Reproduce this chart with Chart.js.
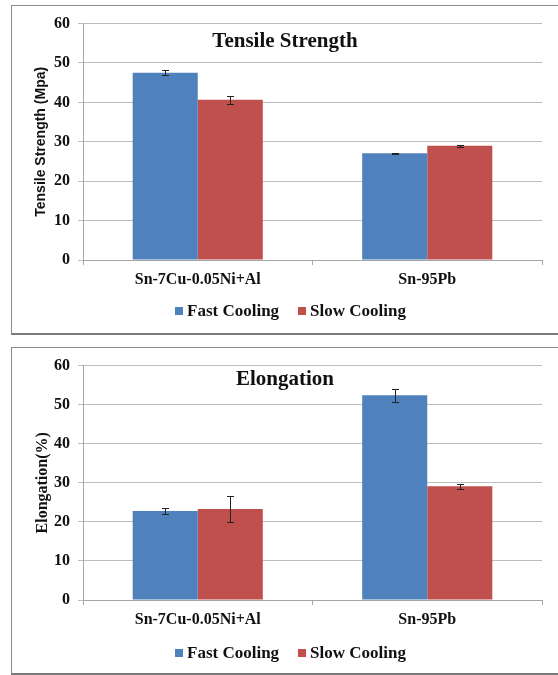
<!DOCTYPE html>
<html>
<head>
<meta charset="utf-8">
<script src="https://cdn.jsdelivr.net/npm/chart.js@4.4.1/dist/chart.umd.min.js"></script>
<style>
  html, body { margin: 0; padding: 0; background: #fff; width: 558px; height: 675px; overflow: hidden; }
  .panel { position: absolute; left: 11px; width: 547px; border: 1px solid #8c8c8c; border-bottom: 2px solid #7a7a7a; background: #fff; }
  #panel1 { top: 5px; height: 327px; }
  #panel2 { top: 347px; height: 325px; }
  .panel canvas { position: absolute; left: 0; top: 0; }
  .legend { position: absolute; left: 163px; height: 20px; display: flex; align-items: center;
            font: bold 17px "Liberation Serif", "Times New Roman", serif; color: #111; white-space: nowrap; }
  .legend .item { display: flex; align-items: center; }
  .legend .item + .item { margin-left: 19px; }
  .legend .swatch { width: 8px; height: 8px; margin-right: 4px; }
</style>
</head>
<body>
<div class="panel" id="panel1">
  <canvas id="tensile" width="546" height="327"></canvas>
  <div class="legend" id="legend1" style="top:295px"></div>
</div>
<div class="panel" id="panel2">
  <canvas id="elong" width="546" height="325"></canvas>
  <div class="legend" id="legend2" style="top:295px"></div>
</div>
<script>
// Alloys on the x axis
const categories = ['Sn-7Cu-0.05Ni+Al', 'Sn-95Pb'];
const seriesNames = ['Fast Cooling', 'Slow Cooling'];

// Tensile strength (MPa) with standard deviations
const tensileFast = [47.5, 27.1];
const tensileFastErr = [0.6, 0.1];
const tensileSlow = [40.7, 29.0];
const tensileSlowErr = [1.0, 0.2];

// Elongation (%) with standard deviations
const elongFast = [22.8, 52.4];
const elongFastErr = [0.8, 1.7];
const elongSlow = [23.3, 29.1];
const elongSlowErr = [3.3, 0.7];

// Shared y-axis ticks
const yTicks = [0, 10, 20, 30, 40, 50, 60];

const BLUE = '#4F81BD';
const RED = '#C0504D';
const SERIF = '"Liberation Serif", "Times New Roman", serif';
const SANS = '"Liberation Sans", Arial, sans-serif';

// Error bars drawn from each dataset's `errors` array
const errorBars = {
  id: 'errorBars',
  afterDatasetsDraw(chart) {
    const ctx = chart.ctx;
    const y = chart.scales.y;
    ctx.save();
    ctx.strokeStyle = '#222';
    ctx.lineWidth = 1;
    chart.data.datasets.forEach((ds, i) => {
      const meta = chart.getDatasetMeta(i);
      meta.data.forEach((bar, j) => {
        const v = ds.data[j], e = ds.errors[j];
        const x = Math.round(bar.x) + 0.5;
        const t = Math.round(y.getPixelForValue(v + e)) + 0.5;
        const b = Math.round(y.getPixelForValue(v - e)) + 0.5;
        ctx.beginPath();
        ctx.moveTo(x, t); ctx.lineTo(x, b);
        ctx.moveTo(x - 3.5, t); ctx.lineTo(x + 3.5, t);
        ctx.moveTo(x - 3.5, b); ctx.lineTo(x + 3.5, b);
        ctx.stroke();
      });
    });
    ctx.restore();
  }
};

// Title placed inside the plot area
const innerTitle = {
  id: 'innerTitle',
  afterDatasetsDraw(chart, args, opts) {
    const a = chart.chartArea;
    const ctx = chart.ctx;
    ctx.save();
    ctx.font = 'bold 21px ' + SERIF;
    ctx.fillStyle = '#111';
    ctx.textAlign = 'center';
    ctx.textBaseline = 'middle';
    ctx.fillText(opts.text, a.left + (a.right - a.left) * opts.xFrac, a.top + opts.dy);
    ctx.restore();
  }
};

function makeChart(id, fast, fastErr, slow, slowErr, title, titleDy, yTitle, yTitleFont) {
  return new Chart(document.getElementById(id), {
    type: 'bar',
    data: {
      labels: categories,
      datasets: [
        { label: seriesNames[0], data: fast, errors: fastErr, backgroundColor: BLUE, borderWidth: 0 },
        { label: seriesNames[1], data: slow, errors: slowErr, backgroundColor: RED, borderWidth: 0 }
      ]
    },
    options: {
      responsive: false,
      animation: false,
      devicePixelRatio: 1,
      layout: { padding: { left: 12, right: 16, top: 15, bottom: 33 } },
      datasets: { bar: { categoryPercentage: 0.567, barPercentage: 1.0 } },
      plugins: {
        legend: { display: false },
        tooltip: { enabled: false },
        innerTitle: { text: title, xFrac: 0.44, dy: titleDy }
      },
      scales: {
        x: {
          afterFit: s => { s.height = 40; },
          grid: { offset: true, drawOnChartArea: false, drawTicks: true, tickLength: 5, color: '#a6a6a6' },
          border: { display: true, color: '#a6a6a6', width: 1 },
          ticks: { padding: 5, color: '#111', font: { family: SERIF, size: 16, weight: 'bold' } }
        },
        y: {
          min: 0, max: 60,
          afterFit: s => { s.width = 71 - 12; },
          afterBuildTicks: s => { s.ticks = yTicks.map(v => ({ value: v })); },
          grid: { color: '#bdbdbd', lineWidth: 1, drawTicks: true, tickLength: 5 },
          border: { display: true, color: '#a6a6a6', width: 1 },
          ticks: { padding: 8, color: '#111', font: { family: SERIF, size: 16, weight: 'bold' } },
          title: { display: true, text: yTitle, color: '#111', font: yTitleFont, padding: { top: 9, bottom: 0 } }
        }
      }
    },
    plugins: [errorBars, innerTitle]
  });
}

makeChart('tensile', tensileFast, tensileFastErr, tensileSlow, tensileSlowErr,
  'Tensile Strength', 18, 'Tensile Strength (Mpa)', { family: SANS, size: 14, weight: 'bold' });
makeChart('elong', elongFast, elongFastErr, elongSlow, elongSlowErr,
  'Elongation', 14, 'Elongation(%)', { family: SERIF, size: 16, weight: 'bold' });

// Legends built from the series names and colours
function buildLegend(id) {
  const el = document.getElementById(id);
  [BLUE, RED].forEach((c, i) => {
    const item = document.createElement('span');
    item.className = 'item';
    const sw = document.createElement('span');
    sw.className = 'swatch';
    sw.style.background = c;
    item.appendChild(sw);
    item.appendChild(document.createTextNode(seriesNames[i]));
    el.appendChild(item);
  });
}
buildLegend('legend1');
buildLegend('legend2');
</script>
</body>
</html>
